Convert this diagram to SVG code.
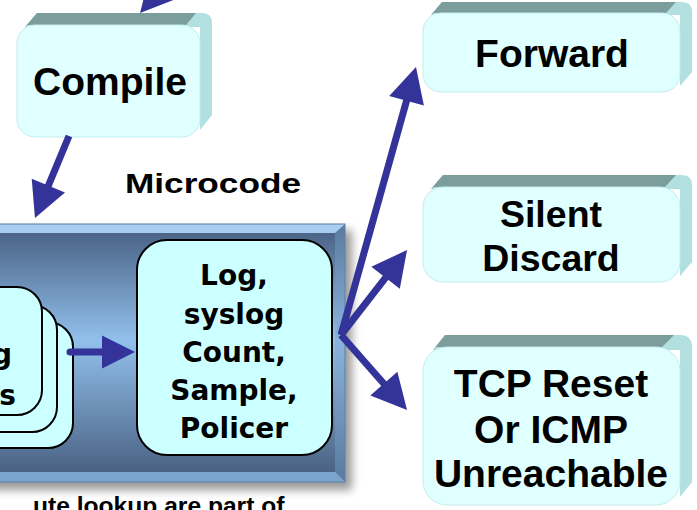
<svg xmlns="http://www.w3.org/2000/svg" width="697" height="510" viewBox="0 0 697 510">
  <defs>
    <style>
      .lbl { font-family: "Liberation Sans", Arial, sans-serif; font-weight: bold; fill: #000; text-anchor: middle; }
      .big { font-size: 39px; }
      .act { font-family: "DejaVu Sans", Verdana, sans-serif; font-weight: bold; font-size: 28px; fill: #000; text-anchor: middle; }
      .face { fill: #e0ffff; stroke: #c4ecec; stroke-width: 1; }
      .side { fill: #b2dfdf; }
      .top { fill: #7b9d9b; }
      .card { fill: #ccffff; stroke: #000; stroke-width: 2; }
      .conn { stroke: #333399; stroke-width: 7; fill: none; marker-end: url(#ah); }
    </style>
    <marker id="ah" markerUnits="userSpaceOnUse" markerWidth="40" markerHeight="40" refX="2" refY="0" orient="auto" overflow="visible">
      <path d="M0,-18 L35,0 L0,18 Z" fill="#333399"/>
    </marker>
    <marker id="ah-s" markerUnits="userSpaceOnUse" markerWidth="40" markerHeight="40" refX="2" refY="0" orient="auto" overflow="visible">
      <path d="M0,-16.5 L33,0 L0,16.5 Z" fill="#333399"/>
    </marker>
    <linearGradient id="panel" x1="0" y1="0" x2="0" y2="1">
      <stop offset="0" stop-color="#4b6487"/>
      <stop offset="0.45" stop-color="#92c0ec"/>
      <stop offset="1" stop-color="#4a6283"/>
    </linearGradient>
    <linearGradient id="rim" x1="0" y1="0" x2="0" y2="1">
      <stop offset="0" stop-color="#5a7a9e"/>
      <stop offset="0.45" stop-color="#8ab3dd"/>
      <stop offset="1" stop-color="#5a7a9e"/>
    </linearGradient>
    <filter id="soft" x="-20%" y="-20%" width="140%" height="140%">
      <feGaussianBlur stdDeviation="5"/>
    </filter>
  </defs>

  <!-- Compile -->
  <g id="compile">
    <path class="side" d="M25,27 L37,13 L202,13 Q212,13 212,23 L212,115 L200,130 L200,27 Z"/>
    <path class="top" d="M25,27 L37,13 L196,13 L186,25 L28,25 Z"/>
    <rect class="face" x="17" y="25" width="183" height="112" rx="18"/>
    <text class="lbl big" x="110" y="95">Compile</text>
  </g>

  <!-- Forward -->
  <g id="forward">
    <path class="side" d="M431,15 L442,2 L682,2 Q692,2 692,12 L692,72 L680,86 L680,15 Z"/>
    <path class="top" d="M431,15 L442,2 L676,2 L666,13 L434,13 Z"/>
    <rect class="face" x="423" y="13" width="257" height="79" rx="18"/>
    <text class="lbl big" x="552" y="67">Forward</text>
  </g>

  <!-- Silent Discard -->
  <g id="silent-discard">
    <path class="side" d="M431,189 L443,175 L682,175 Q692,175 692,185 L692,262 L680,276 L680,189 Z"/>
    <path class="top" d="M431,189 L443,175 L676,175 L665,187 L434,187 Z"/>
    <rect class="face" x="423" y="187" width="257" height="95" rx="20"/>
    <text class="lbl" font-size="37.5" x="551" y="227">Silent</text>
    <text class="lbl" font-size="37.5" x="551" y="271">Discard</text>
  </g>

  <!-- TCP Reset / ICMP Unreachable -->
  <g id="tcp-reset">
    <path class="side" d="M433,350 L445,335 L680,335 Q692,335 692,347 L692,482 L680,497 L680,350 Z"/>
    <path class="top" d="M433,350 L445,335 L674,335 L662,347 L436,347 Z"/>
    <rect class="face" x="423" y="347" width="257" height="158" rx="24"/>
    <text class="lbl big" x="551" y="397">TCP Reset</text>
    <text class="lbl big" x="551" y="443">Or ICMP</text>
    <text class="lbl big" x="551" y="487">Unreachable</text>
  </g>

  <!-- Microcode label -->
  <g id="microcode-label">
    <text class="lbl" font-size="28" x="125" y="193" style="text-anchor:start" textLength="176" lengthAdjust="spacingAndGlyphs">Microcode</text>
  </g>

  <!-- Bevelled engine panel -->
  <g id="engine">
    <rect x="-10" y="230" width="362" height="260" fill="#000" opacity="0.4" filter="url(#soft)"/>
    <rect x="-10" y="233" width="345" height="239" fill="url(#panel)"/>
    <polygon points="-10,224 345,224 335,233 -10,233" fill="#a7cdf3"/>
    <polygon points="345,224 345,482 335,472 335,233" fill="url(#rim)"/>
    <polygon points="-10,482 345,482 335,472 -10,472" fill="#7aa3cd"/>
    <rect x="-10" y="224" width="355" height="258" fill="none" stroke="#5f80a6" stroke-width="1"/>
  </g>

  <!-- Stacked rule cards -->
  <g id="rule-cards">
    <rect class="card" x="-140" y="322" width="213" height="126" rx="25"/>
    <rect class="card" x="-140" y="305" width="197" height="127" rx="25"/>
    <rect class="card" x="-140" y="287" width="182" height="128" rx="25"/>
    <text class="act" x="12" y="364" style="text-anchor:end">g</text>
    <text class="act" x="16" y="405" style="text-anchor:end">s</text>
  </g>

  <!-- Actions -->
  <g id="actions">
    <rect class="card" x="137" y="240" width="195" height="215" rx="30"/>
    <text class="act" x="234" y="285">Log,</text>
    <text class="act" x="234" y="324">syslog</text>
    <text class="act" x="234" y="362">Count,</text>
    <text class="act" x="234" y="400">Sample,</text>
    <text class="act" x="234" y="438">Policer</text>
  </g>

  <!-- Footnote (runs past the lower edge) -->
  <g id="footnote">
    <text class="lbl" font-size="24.6" x="33" y="514" style="text-anchor:start">ute lookup are part of</text>
  </g>

  <!-- Connectors -->
  <g id="connectors">
    <line class="conn" x1="219.6" y1="-76.9" x2="161.9" y2="-11.7"/>
    <line class="conn" x1="69" y1="136" x2="47.6" y2="187.5"/>
    <line class="conn" x1="70" y1="352" x2="104" y2="352" stroke-linecap="round" style="marker-end:url(#ah-s)"/>
    <line class="conn" x1="341" y1="335" x2="407.1" y2="98.8"/>
    <line class="conn" x1="341" y1="335" x2="386.8" y2="276.1"/>
    <line class="conn" x1="341" y1="335" x2="385.2" y2="385.2"/>
  </g>
</svg>
